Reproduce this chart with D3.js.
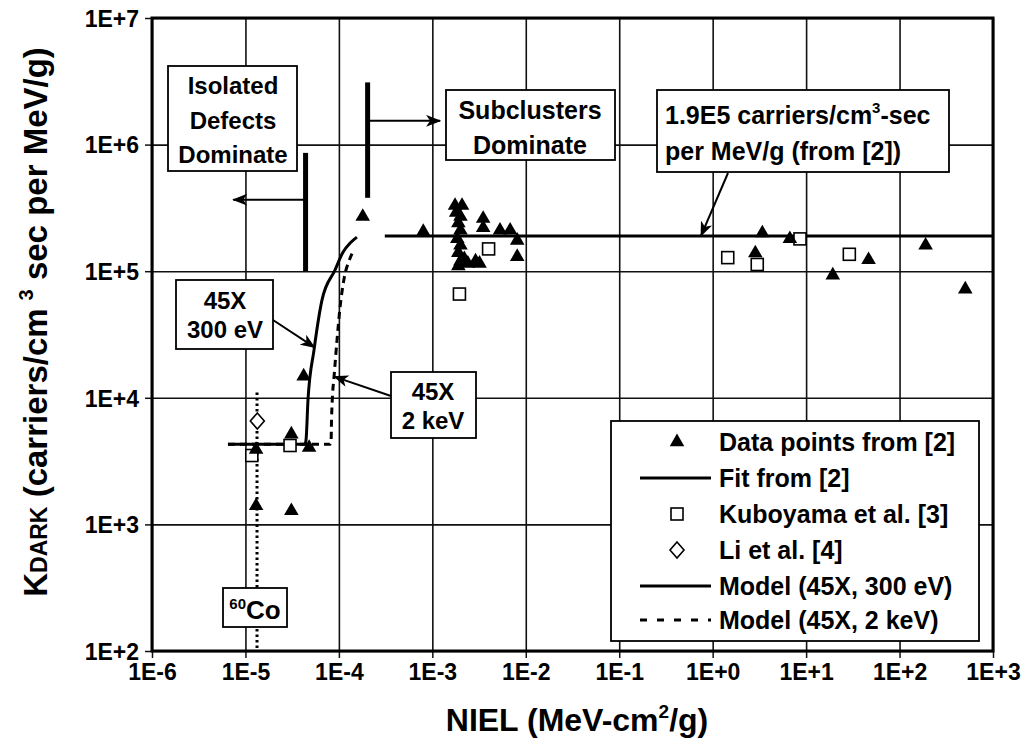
<!DOCTYPE html>
<html>
<head>
<meta charset="utf-8">
<script src="https://cdn.jsdelivr.net/npm/d3@7"></script>
<style>
  html, body { margin: 0; padding: 0; background: #fff; }
  svg { display: block; font-family: "Liberation Sans", Arial, sans-serif; font-weight: bold; }
</style>
</head>
<body>
<svg id="chart" width="1030" height="749"></svg>
<script>
// ---------------- data ----------------
const xTicks = [1e-6, 1e-5, 1e-4, 1e-3, 1e-2, 1e-1, 1e0, 1e1, 1e2, 1e3];
const xTickLabels = ["1E-6", "1E-5", "1E-4", "1E-3", "1E-2", "1E-1", "1E+0", "1E+1", "1E+2", "1E+3"];
const yTicks = [1e2, 1e3, 1e4, 1e5, 1e6, 1e7];
const yTickLabels = ["1E+2", "1E+3", "1E+4", "1E+5", "1E+6", "1E+7"];

// Data points from [2]  [NIEL, Kdark]
const dataPoints2 = [
  [1.3e-5, 1400], [3.1e-5, 1280], [1.3e-5, 3900], [3.1e-5, 5150], [4.8e-5, 4040],
  [4.2e-5, 14800], [1.8e-4, 2.7e5],
  [8.0e-4, 2.05e5],
  [1.75e-3, 3.3e5], [2.08e-3, 3.3e5], [1.8e-3, 2.9e5], [2.0e-3, 2.7e5], [1.9e-3, 2.4e5],
  [2.0e-3, 2.1e5], [1.85e-3, 1.8e5], [2.0e-3, 1.6e5], [1.9e-3, 1.4e5], [2.0e-3, 1.2e5],
  [1.9e-3, 1.1e5], [2.2e-3, 1.25e5], [2.4e-3, 1.15e5], [2.9e-3, 1.2e5], [3.2e-3, 1.15e5],
  [3.5e-3, 2.6e5], [3.5e-3, 2.2e5], [5.3e-3, 2.1e5], [6.8e-3, 2.1e5], [8.1e-3, 1.75e5],
  [8.1e-3, 1.3e5],
  [2.86, 1.39e5], [3.4, 2.0e5], [6.7, 1.8e5], [19.3, 9.3e4], [46.6, 1.23e5],
  [190, 1.6e5], [505, 7.2e4]
];
// Fit from [2]
const fit2 = [[3.1e-4, 1.9e5], [1e3, 1.9e5]];
// Kuboyama et al. [3]
const kuboyama = [
  [1.17e-5, 3500], [3.0e-5, 4200], [1.95e-3, 6.6e4], [4.0e-3, 1.5e5],
  [1.45, 1.28e5], [3.0, 1.13e5], [8.6, 1.8e5], [29, 1.36e5]
];
// Li et al. [4]
const liData = [[1.34e-5, 6550]];
// Model (45X, 300 eV)
const model300 = [
  [6.5e-6, 4290], [4.33e-5, 4290], [4.45e-5, 4640], [4.67e-5, 9610], [5.42e-5, 2.39e4],
  [6.6e-5, 5.93e4], [9.08e-5, 1.02e5], [1.11e-4, 1.42e5], [1.32e-4, 1.67e5], [1.56e-4, 1.86e5]
];
// Model (45X, 2 keV)
const model2k = [
  [6.5e-6, 4290], [8.04e-5, 4290], [8.24e-5, 4400], [8.34e-5, 6680], [8.55e-5, 1.05e4],
  [8.87e-5, 1.46e4], [9.55e-5, 2.86e4], [1.03e-4, 5.22e4], [1.13e-4, 8.53e4],
  [1.32e-4, 1.27e5], [1.45e-4, 1.47e5]
];
// 60Co reference line
const co60 = [[1.33e-5, 1.1e4], [1.33e-5, 100]];

const legendLabels = ["Data points from [2]", "Fit from [2]", "Kuboyama et al. [3]",
  "Li et al. [4]", "Model (45X, 300 eV)", "Model (45X, 2 keV)"];

// ---------------- layout ----------------
const svg = d3.select("#chart");
const L = 152, R = 993, T = 18, B = 651;
const x = d3.scaleLog().domain([1e-6, 1e3]).range([L, R]);
const y = d3.scaleLog().domain([1e2, 1e7]).range([B, T]);

const defs = svg.append("defs");
defs.append("marker").attr("id", "arrow")
  .attr("viewBox", "0 0 15 12").attr("refX", 14).attr("refY", 6)
  .attr("markerWidth", 15).attr("markerHeight", 12).attr("markerUnits", "userSpaceOnUse")
  .attr("orient", "auto")
  .append("path").attr("d", "M0,0 L15,6 L0,12 L4,6 Z").attr("fill", "#000");

// grid
const gx = svg.append("g").attr("transform", `translate(0,${B})`)
  .call(d3.axisBottom(x).tickValues(xTicks).tickSize(-(B - T)).tickFormat(""));
gx.selectAll("line").attr("stroke", "#111").attr("stroke-width", 1.6);
gx.select(".domain").remove();
const gy = svg.append("g").attr("transform", `translate(${L},0)`)
  .call(d3.axisLeft(y).tickValues(yTicks).tickSize(-(R - L)).tickFormat(""));
gy.selectAll("line").attr("stroke", "#111").attr("stroke-width", 1.6);
gy.select(".domain").remove();

// axes with labels
const ax = svg.append("g").attr("transform", `translate(0,${B})`)
  .call(d3.axisBottom(x).tickValues(xTicks).tickSize(7).tickPadding(6)
    .tickFormat((d, i) => xTickLabels[i]));
ax.select(".domain").remove();
ax.selectAll("line").attr("stroke", "#111").attr("stroke-width", 1.5);
ax.selectAll("text").attr("font-size", 23).attr("font-family", "Liberation Sans, Arial, sans-serif")
  .attr("font-weight", "bold").attr("fill", "#000");

const ay = svg.append("g").attr("transform", `translate(${L},0)`)
  .call(d3.axisLeft(y).tickValues(yTicks).tickSize(7).tickPadding(6)
    .tickFormat((d, i) => yTickLabels[i]));
ay.select(".domain").remove();
ay.selectAll("line").attr("stroke", "#111").attr("stroke-width", 1.5);
ay.selectAll("text").attr("font-size", 23).attr("font-family", "Liberation Sans, Arial, sans-serif")
  .attr("font-weight", "bold").attr("fill", "#000").attr("dy", "0.36em");

// plot border
svg.append("rect").attr("x", L).attr("y", T).attr("width", R - L).attr("height", B - T)
  .attr("fill", "none").attr("stroke", "#000").attr("stroke-width", 3);

// axis titles
const xt = svg.append("text").attr("x", 577).attr("y", 731).attr("text-anchor", "middle")
  .attr("font-size", 32);
xt.append("tspan").text("NIEL (MeV-cm");
xt.append("tspan").attr("font-size", 19).attr("dy", -13).text("2");
xt.append("tspan").attr("dy", 13).text("/g)");

const yt = svg.append("text").attr("transform", "translate(47,322) rotate(-90)")
  .attr("text-anchor", "middle").attr("font-size", 33);
yt.append("tspan").text("K");
yt.append("tspan").attr("font-size", 23).text("DARK");
yt.append("tspan").text(" (carriers/cm");
yt.append("tspan").attr("font-size", 20).attr("dx", 8).attr("dy", -14).text("3");
yt.append("tspan").attr("dy", 14).text(" sec per MeV/g)");

// ---------------- marks ----------------
const line = d3.line().x(d => x(d[0])).y(d => y(d[1]));
const curve = d3.line().x(d => x(d[0])).y(d => y(d[1])).curve(d3.curveMonotoneX);

// 60Co dotted line
svg.append("path").datum(co60).attr("d", line).attr("fill", "none")
  .attr("stroke", "#000").attr("stroke-width", 3).attr("stroke-dasharray", "2.5,3");

// fit
svg.append("path").datum(fit2).attr("d", line).attr("fill", "none")
  .attr("stroke", "#000").attr("stroke-width", 3);

// models
svg.append("path").datum(model2k).attr("d", curve).attr("fill", "none")
  .attr("stroke", "#000").attr("stroke-width", 3).attr("stroke-dasharray", "7,5");
svg.append("path").datum(model300).attr("d", curve).attr("fill", "none")
  .attr("stroke", "#000").attr("stroke-width", 3);

// Kuboyama squares
const sq = 12;
svg.append("g").selectAll("rect").data(kuboyama).join("rect")
  .attr("x", d => x(d[0]) - sq / 2).attr("y", d => y(d[1]) - sq / 2)
  .attr("width", sq).attr("height", sq)
  .attr("fill", "#fff").attr("stroke", "#000").attr("stroke-width", 1.6);

// Li diamond
const diamond = "M0,-8 L7,0 L0,8 L-7,0 Z";
svg.append("g").selectAll("path").data(liData).join("path")
  .attr("transform", d => `translate(${x(d[0])},${y(d[1])})`)
  .attr("d", diamond).attr("fill", "#fff").attr("stroke", "#000").attr("stroke-width", 1.6);

// triangles
const tri = d3.symbol().type(d3.symbolTriangle).size(92);
svg.append("g").selectAll("path").data(dataPoints2).join("path")
  .attr("transform", d => `translate(${x(d[0])},${y(d[1])})`)
  .attr("d", tri).attr("fill", "#000");

// ---------------- annotations ----------------
function box(x0, y0, x1, y1) {
  svg.append("rect").attr("x", x0).attr("y", y0).attr("width", x1 - x0).attr("height", y1 - y0)
    .attr("fill", "#fff").attr("stroke", "#000").attr("stroke-width", 1.8);
}
function lines(cx, ys, texts, size, anchor) {
  texts.forEach((t, i) => svg.append("text").attr("x", cx).attr("y", ys[i])
    .attr("text-anchor", anchor || "middle").attr("font-size", size).text(t));
}
function arrow(x0, y0, x1, y1) {
  svg.append("line").attr("x1", x0).attr("y1", y0).attr("x2", x1).attr("y2", y1)
    .attr("stroke", "#000").attr("stroke-width", 2).attr("marker-end", "url(#arrow)");
}

// regime bars
svg.append("line").attr("x1", x(4.4e-5)).attr("x2", x(4.4e-5)).attr("y1", y(1e5)).attr("y2", y(8.6e5))
  .attr("stroke", "#000").attr("stroke-width", 5);
arrow(x(4.4e-5), y(3.67e5), x(7.4e-6), y(3.67e5));
svg.append("line").attr("x1", x(2.03e-4)).attr("x2", x(2.03e-4)).attr("y1", y(3.8e5)).attr("y2", y(3.1e6))
  .attr("stroke", "#000").attr("stroke-width", 5);
arrow(x(2.03e-4), y(1.54e6), x(1.21e-3), y(1.54e6));

box(168, 66, 297, 171);
lines(233, [94, 129, 163], ["Isolated", "Defects", "Dominate"], 24);

box(446, 90, 615, 160);
lines(530, [119, 154], ["Subclusters", "Dominate"], 25);

box(657, 90, 949, 172);
const t19 = svg.append("text").attr("x", 665).attr("y", 124).attr("font-size", 25);
t19.append("tspan").text("1.9E5 carriers/cm");
t19.append("tspan").attr("font-size", 15).attr("dy", -11).text("3");
t19.append("tspan").attr("dy", 11).text("-sec");
svg.append("text").attr("x", 665).attr("y", 160).attr("font-size", 25).text("per MeV/g (from [2])");
arrow(728, 173, x(0.75), y(1.9e5));

box(176, 280, 273, 349);
lines(225, [309, 338], ["45X", "300 eV"], 24);
arrow(273, 320, x(5.5e-5), y(2.5e4));

box(391, 372, 476, 438);
lines(433, [400, 429], ["45X", "2 keV"], 24);
arrow(391, 396, x(8.9e-5), y(1.47e4));

box(223, 588, 287, 627);
const tco = svg.append("text").attr("x", 255).attr("y", 619).attr("text-anchor", "middle").attr("font-size", 26);
tco.append("tspan").attr("font-size", 15).attr("dy", -10).text("60");
tco.append("tspan").attr("dy", 10).text("Co");

// ---------------- legend ----------------
box(611, 421, 979, 641);
const rowY = [442, 478, 514, 550, 586, 620];
const lg = svg.append("g");
legendLabels.forEach((lab, i) => {
  lg.append("text").attr("x", 719).attr("y", rowY[i] + 9).attr("font-size", 25).text(lab);
});
lg.append("path").attr("transform", `translate(677,${rowY[0]})`).attr("d", tri).attr("fill", "#000");
lg.append("line").attr("x1", 640).attr("x2", 711).attr("y1", rowY[1]).attr("y2", rowY[1])
  .attr("stroke", "#000").attr("stroke-width", 3);
lg.append("rect").attr("x", 677 - sq / 2).attr("y", rowY[2] - sq / 2).attr("width", sq).attr("height", sq)
  .attr("fill", "#fff").attr("stroke", "#000").attr("stroke-width", 1.6);
lg.append("path").attr("transform", `translate(677,${rowY[3]})`).attr("d", diamond)
  .attr("fill", "#fff").attr("stroke", "#000").attr("stroke-width", 1.6);
lg.append("line").attr("x1", 640).attr("x2", 711).attr("y1", rowY[4]).attr("y2", rowY[4])
  .attr("stroke", "#000").attr("stroke-width", 3);
lg.append("line").attr("x1", 640).attr("x2", 711).attr("y1", rowY[5]).attr("y2", rowY[5])
  .attr("stroke", "#000").attr("stroke-width", 3).attr("stroke-dasharray", "7,10");
</script>
</body>
</html>
